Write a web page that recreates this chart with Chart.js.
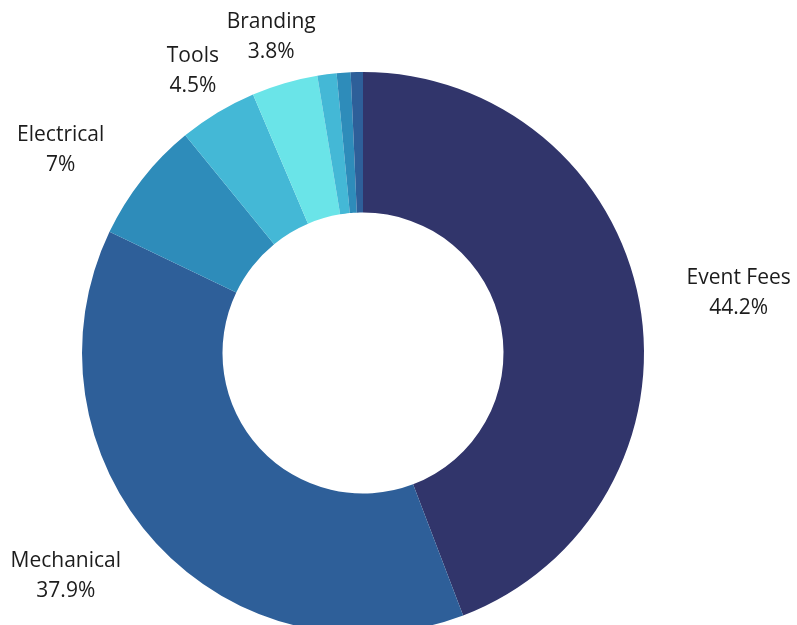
<!DOCTYPE html>
<html>
<head>
<meta charset="utf-8">
<script src="https://cdn.jsdelivr.net/npm/chart.js@4"></script>
<style>
  html, body { margin: 0; padding: 0; background: #fff; overflow: hidden; width: 797px; height: 625px; }
  #wrap { position: relative; width: 797px; height: 700px; }
</style>
</head>
<body>
<div id="wrap"><canvas id="chart-budget"></canvas></div>
<script>
// budget split
const categories = ['Event Fees', 'Mechanical', 'Electrical', 'Tools', 'Branding', 'Shipping', 'Software', 'Misc'];
const shares = [44.2, 37.9, 7, 4.5, 3.8, 1.1, 0.8, 0.7];
const sliceColors = ['#31356b', '#2e5f99', '#2e8cba', '#44b8d6', '#6ae4e8', '#44b8d6', '#2e8cba', '#2e5f99'];
const minLabelShare = 2; // tiny slices get no label

// outside labels: name + percent, block anchored 48px past the rim
const outsideLabels = {
    id: 'outsideLabels',
    afterDatasetsDraw(chart) {
        const ctx = chart.ctx;
        const meta = chart.getDatasetMeta(0);
        ctx.save();
        ctx.font = '21px "Open Sans"';
        ctx.fillStyle = '#1c1c1c';
        ctx.textBaseline = 'middle';
        ctx.textAlign = 'center';
        meta.data.forEach((arc, i) => {
            if (shares[i] < minLabelShare) return;
            const p = arc.getProps(['x', 'y', 'startAngle', 'endAngle', 'outerRadius'], true);
            const mid = (p.startAngle + p.endAngle) / 2;
            const vx = Math.cos(mid), vy = Math.sin(mid);
            const r = p.outerRadius + 48;
            let x = p.x + vx * r;
            const y = p.y + vy * r;
            const lines = [categories[i], shares[i] + '%'];
            const w = Math.max(...lines.map(t => ctx.measureText(t).width));
            if (vx > 0.65) x += w / 2;
            else if (vx < -0.65) x -= w / 2;
            ctx.fillText(lines[0], x, y - 15);
            ctx.fillText(lines[1], x, y + 15);
        });
        ctx.restore();
    }
};

new Chart(document.getElementById('chart-budget').getContext('2d'), {
    type: 'doughnut',
    data: {
        labels: categories,
        datasets: [{
            data: shares,
            backgroundColor: sliceColors,
            borderWidth: 0
        }]
    },
    options: {
        responsive: true,
        maintainAspectRatio: false,
        animation: false,
        cutout: '50%',
        layout: { padding: { left: 82, right: 153, top: 72, bottom: 66 } },
        plugins: {
            legend: { display: false },
            tooltip: { enabled: false }
        }
    },
    plugins: [outsideLabels]
});
</script>
</body>
</html>
